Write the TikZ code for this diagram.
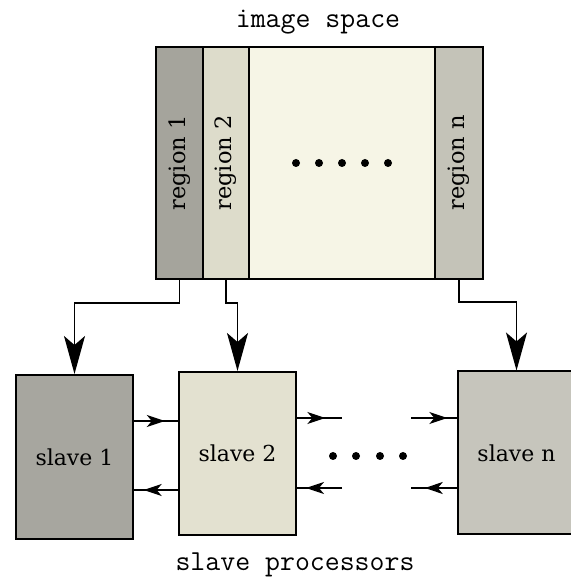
\documentclass[tikz,border=0pt]{standalone}
\usepackage{fontspec}
\newfontfamily\labelfont{DejaVu Serif}
\usetikzlibrary{arrows.meta,decorations.markings,positioning}
\definecolor{regA}{HTML}{A5A49C}
\definecolor{regB}{HTML}{DDDCCB}
\definecolor{regMid}{HTML}{F6F5E6}
\definecolor{regN}{HTML}{C4C3B8}
\definecolor{slaveA}{HTML}{A7A69F}
\definecolor{slaveB}{HTML}{E3E1D0}
\definecolor{slaveN}{HTML}{C6C5BC}

\begin{document}
\begin{tikzpicture}[x=1pt, y=1pt,
                region/.style = {draw, line width=1.2pt, anchor=north west, minimum height=232pt,
                                 inner sep=0pt, outer sep=0pt, font=\labelfont\fontsize{22.5}{26}\selectfont},
                slave/.style = {draw, line width=2pt, minimum width=117pt, minimum height=163pt,
                                font=\labelfont\fontsize{22}{26}\selectfont},
                caption/.style = {font=\ttfamily\fontsize{29}{33}\selectfont},
                feed/.style = {line width=1.5pt, -{Stealth[length=38pt, width=21pt, inset=9pt]}},
                link/.style = {line width=1.5pt, postaction={decorate},
                               decoration={markings, mark=at position #1 with {\arrow{Stealth[length=18pt, width=12pt, inset=5pt]}}}}
                ]
                \useasboundingbox (0,0) rectangle (570,577);

                % image space
                \node[caption] (title) at (318,555) {image space};
                \node[region, fill=regA, minimum width=47pt] (reg1) at (156,530) {\rotatebox{90}{region 1}};
                \node[region, fill=regB, minimum width=46pt] (reg2) at (reg1.north east) {\rotatebox{90}{region 2}};
                \node[region, fill=regMid, minimum width=186pt] (regmid) at (reg2.north east) {};
                \node[region, fill=regN, minimum width=48pt] (regn) at (regmid.north east) {\rotatebox{90}{region n}};
                \draw[line width=2pt] (reg1.north west) rectangle (regn.south east);
                \foreach \x in {296,319,342,365,388}
                    \fill (\x,414) circle (4pt);

                % slave processors
                \node[slave, fill=slaveA, minimum height=164pt] (slave1) at (74.5,120) {slave 1};
                \node[slave, fill=slaveB] (slave2) at (237.5,123.5) {slave 2};
                \node[slave, fill=slaveN] (slaven) at (516.5,124) {slave n};
                \foreach \x in {333,356,380,403}
                    \fill (\x,121) circle (4pt);
                \node[caption] (footer) at (295,12) {slave processors};

                \draw[feed] (reg1.south) -- ++(0,-24) -| (slave1.north);
                \draw[feed] (reg2.south) -- ++(0,-24) -| (slave2.north);
                \draw[feed] (regn.south) -- ++(0,-23) -| (slaven.north);

                \coordinate (gapA) at (342,159);
                \coordinate (gapB) at (342,89);
                \coordinate (gapC) at (411,159);
                \coordinate (gapD) at (411,89);
                \draw[link=0.7] (slave1.east |- 0,156) -- (slave2.west |- 0,156);
                \draw[link=0.78] (slave2.west |- 0,87) -- (slave1.east |- 0,87);
                \draw[link=0.63] (slave2.east |- gapA) -- (gapA);
                \draw[link=0.8] (gapB) -- (slave2.east |- gapB);
                \draw[link=0.79] (gapC) -- (slaven.west |- gapC);
                \draw[link=0.7] (slaven.west |- gapD) -- (gapD);
            \end{tikzpicture}
\end{document}
